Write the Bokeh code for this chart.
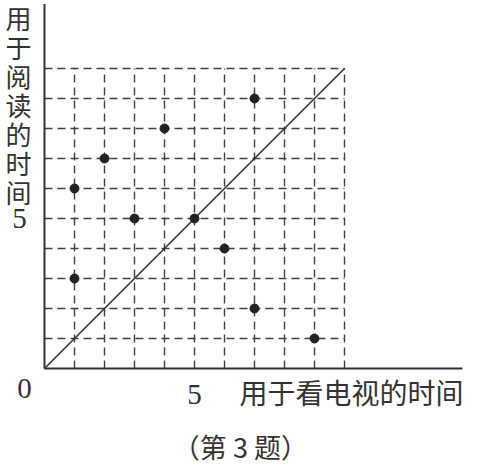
import numpy as np
from bokeh.plotting import figure
from bokeh.models import Range1d
from bokeh.core.properties import value
from bokeh.embed import file_html
from bokeh.resources import INLINE

# ---- data ----
tv_time = [1, 2, 4, 7, 3, 5, 6, 1, 7, 9]        # 用于看电视的时间
read_time = [6, 7, 8, 9, 5, 5, 4, 3, 2, 1]      # 用于阅读的时间
grid_vals = [1, 2, 3, 4, 5, 6, 7, 8, 9, 10]
grid_max = 10
x_tick_labels = ["5"]
x_tick_vals = [5]
y_tick_labels = ["5"]
y_tick_vals = [5]
origin_label = "0"
x_title = "用于看电视的时间"
y_title = "用于阅读的时间"
caption = "（第 3 题）"

CJK = value("Noto Sans CJK SC")
SERIF = value("Liberation Serif")

p = figure(width=478, height=467, output_backend="svg", toolbar_location=None,
           x_range=Range1d(-1.4667, 14.4667), y_range=Range1d(-3.3, 12.2667),
           x_axis_type=None, y_axis_type=None, min_border=0,
           outline_line_color=None, background_fill_color="white")
p.grid.visible = False

# dashed grid
gx0 = [0] * len(grid_vals)
gx1 = [grid_max] * len(grid_vals)
p.segment(x0=gx0, y0=grid_vals, x1=gx1, y1=grid_vals,
          line_color="#404040", line_width=1.4, line_dash="8 5")
p.segment(x0=grid_vals, y0=gx0, x1=grid_vals, y1=gx1,
          line_color="#404040", line_width=1.4, line_dash="8 5")

# axes lines
p.segment(x0=[0], y0=[0], x1=[13.93], y1=[0], line_color="#333333", line_width=2)
p.segment(x0=[0], y0=[0], x1=[0], y1=[12.15], line_color="#333333", line_width=2)

# diagonal y = x
p.line(x=[0, grid_max], y=[0, grid_max], line_color="#333333", line_width=1.6)

# points
p.scatter(x=tv_time, y=read_time, size=9, color="#222222")

# tick labels
p.text(x=x_tick_vals, y=[-0.85] * len(x_tick_vals), text=x_tick_labels,
       text_font=SERIF, text_font_size="29px", text_align="center",
       text_baseline="middle", text_color="#333333")
p.text(x=[-0.83] * len(y_tick_vals), y=y_tick_vals, text=y_tick_labels,
       text_font=SERIF, text_font_size="29px", text_align="center",
       text_baseline="middle", text_color="#333333")
p.text(x=[-0.67], y=[-0.67], text=[origin_label],
       text_font=SERIF, text_font_size="29px", text_align="center",
       text_baseline="middle", text_color="#333333")

# x title
p.text(x=[6.5], y=[-0.77], text=[x_title], text_font=CJK, text_font_size="28px",
       text_align="left", text_baseline="middle", text_color="#333333")

# y title, stacked vertically
chars = list(y_title)
ys = 11.7 - 0.9667 * np.arange(len(chars))
p.text(x=[-0.87] * len(chars), y=ys, text=chars, text_font=CJK,
       text_font_size="26px", text_align="center", text_baseline="middle",
       text_color="#333333")

# caption
p.text(x=[6.53], y=[-2.6], text=[caption], text_font=CJK, text_font_size="27px",
       text_align="center", text_baseline="middle", text_color="#333333")

open("out.html", "w").write(file_html(p, INLINE))
